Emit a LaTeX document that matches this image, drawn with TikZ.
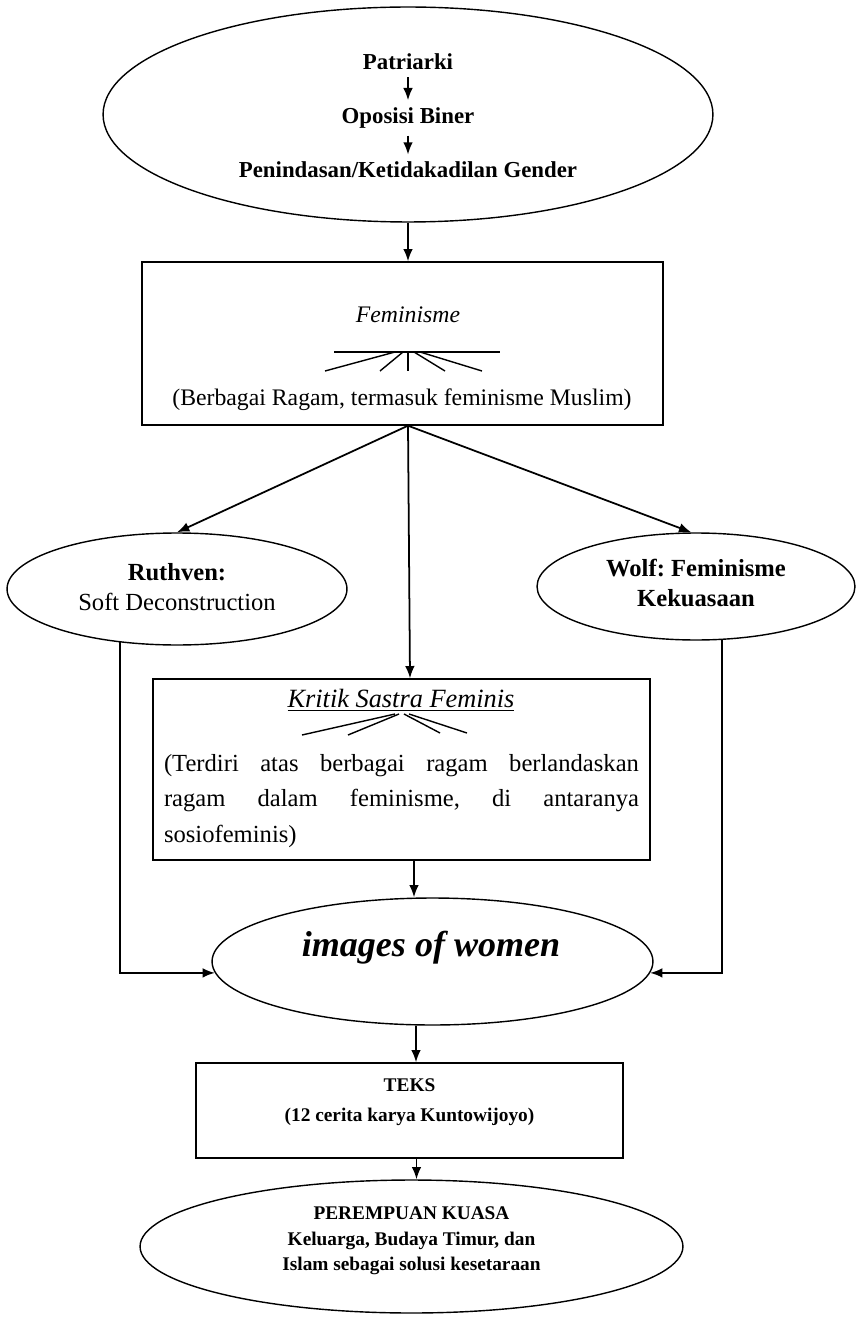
\documentclass[tikz,border=0pt]{standalone}
\usepackage{fontspec}
\setmainfont{Liberation Serif}
\frenchspacing
\usetikzlibrary{shapes.geometric, arrows.meta}

\tikzset{
  arr/.style={-{Latex[length=7pt, width=5.5pt]}, line width=1pt},
  kotak/.style={draw, rectangle, inner sep=0pt, line width=0.8pt},
  elips/.style={draw, ellipse, inner sep=0pt, line width=0.8pt},
}

\begin{document}
\begin{tikzpicture}[x=0.02cm, y=-0.02cm]

      \useasboundingbox (0,0) rectangle (857,1317);

      % bentuk
      \node[elips, minimum width=12.2cm, minimum height=4.3cm]  (akar)      at (408,114.5)  {};
      \node[kotak, minimum width=10.42cm, minimum height=3.26cm] (feminisme) at (402.5,343.5) {};
      \node[elips, minimum width=6.8cm, minimum height=2.24cm]  (ruthven)   at (177,589)    {};
      \node[elips, minimum width=6.36cm, minimum height=2.14cm] (wolf)      at (696,586.5)  {};
      \node[kotak, minimum width=9.94cm, minimum height=3.62cm]  (kritik)    at (401.5,769.5) {};
      \node[elips, minimum width=8.82cm, minimum height=2.54cm] (images)    at (432.5,961.5) {};
      \node[kotak, minimum width=8.54cm, minimum height=1.9cm]   (teks)      at (409.5,1110.5) {};
      \node[elips, minimum width=10.86cm, minimum height=2.66cm] (solusi)   at (411.5,1246.5) {};

      % teks
      \begin{scope}[every node/.style={inner sep=0pt, align=center}]
        \begin{scope}[every node/.append style={font=\fontsize{13}{15}\selectfont\bfseries}]
          \node (patriarki)  at (408,62)  {Patriarki};
          \node (oposisi)    at (408,118) {Oposisi Biner};
          \node (penindasan) at (408,170) {Penindasan/Ketidakadilan Gender};
        \end{scope}

        \node[font=\fontsize{13.5}{16}\selectfont\itshape] (femjudul) at (408,315) {Feminisme};
        \node[font=\fontsize{13.5}{16}\selectfont] (ragam) at (402,400) {(Berbagai Ragam, termasuk feminisme Muslim)};

        \node[font=\fontsize{14}{17}\selectfont] (ruthventeks) at (177,587)
          {\textbf{Ruthven:}\\Soft Deconstruction};
        \node[font=\fontsize{14}{17}\selectfont\bfseries] (wolfteks) at (696,583)
          {Wolf: Feminisme\\Kekuasaan};

        \node[font=\fontsize{15}{18}\selectfont\itshape] (kritikjudul) at (401,700)
          {\underline{Kritik Sastra Feminis}};
        \node[font=\fontsize{14}{20.2}\selectfont, text width=9.5cm, align=justify] (kritikisi) at (401.5,801)
          {(Terdiri atas berbagai ragam berlandaskan\linebreak ragam dalam feminisme, di antaranya\linebreak sosiofeminis)};

        \node[font=\fontsize{20.5}{24}\selectfont\bfseries\itshape] (imagesteks) at (431,948) {images of women};

        \node[font=\fontsize{11}{17}\selectfont\bfseries] (teksisi) at (409.5,1102)
          {TEKS\\(12 cerita karya Kuntowijoyo)};
        \node[font=\fontsize{11}{14.5}\selectfont\bfseries] (solusiteks) at (411.5,1241)
          {PEREMPUAN KUASA\\Keluarga, Budaya Timur, dan\\Islam sebagai solusi kesetaraan};
      \end{scope}

      % kipas
      \draw[line width=0.8pt] (334,352) -- (500,352);
      \draw[line width=0.8pt] (395,352) -- (325,371);
      \draw[line width=0.8pt] (403,352) -- (380,371);
      \draw[line width=0.8pt] (408,352) -- (408,371);
      \draw[line width=0.8pt] (414,352) -- (445,371);
      \draw[line width=0.8pt] (420,352) -- (482,371);

      \draw[line width=0.8pt] (395,714) -- (302,735);
      \draw[line width=0.8pt] (399,714) -- (348,735);
      \draw[line width=0.8pt] (404,714) -- (440,733);
      \draw[line width=0.8pt] (409,714) -- (467,733);

      % panah
      \begin{scope}[every edge/.style={draw, arr}]
        \path (patriarki) edge[shorten <=4pt, shorten >=4pt] (oposisi);
        \path (oposisi)   edge[shorten <=4pt, shorten >=4pt] (penindasan);

        \path (akar.south) edge (akar.south |- feminisme.north);

        \coordinate (cabang) at (feminisme.south -| akar.south);
        \path (cabang) edge (ruthven.north);
        \path (cabang) edge (wolf.95);
        \path (cabang) edge ([xshift=0.04cm]cabang |- kritik.north);

        \path ([xshift=0.25cm]kritik.south) edge ([xshift=0.25cm]kritik.south |- images.north);
        \path ([xshift=-0.33cm]images.south) edge ([xshift=-0.33cm]images.south |- teks.north);
        \path ([xshift=0.14cm]teks.south) edge ([xshift=0.14cm]teks.south |- solusi.north);
      \end{scope}

      \draw[arr] (ruthven.-137) |- (images.183);
      \draw[arr] (wolf.-64) |- (images.-3);

    \end{tikzpicture}
\end{document}
